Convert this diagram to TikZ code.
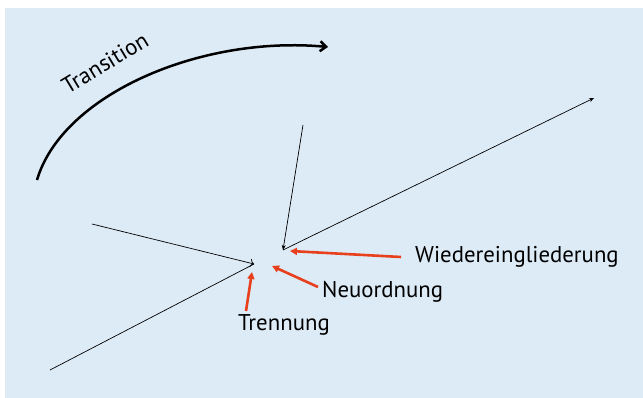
\documentclass[tikz,border=0pt]{standalone}
\usepackage{fontspec}
\setmainfont{PT Sans}
\usetikzlibrary{arrows.meta}
\definecolor{bgblue}{RGB}{221,235,247}
\definecolor{arrowred}{RGB}{232,64,28}
\tikzset{
	thinarrow/.style={black,line width=0.7pt,-{Stealth[length=5pt,width=4pt]}},
	redarrow/.style={arrowred,line width=2.6pt,-{Triangle[length=7pt,width=7pt]}},
	label/.style={font=\fontsize{22.8}{26}\selectfont,inner sep=0pt,anchor=west}
}
\begin{document}
\begin{tikzpicture}[x=1pt,y=-1pt]
	\useasboundingbox (0,0) rectangle (643,398);
	\fill [bgblue] (5,8) rectangle (643,398);
	
	% Transition
	\draw [line width=2.5pt,-{Straight Barb[length=6pt,width=10pt]}] (37,180) .. controls (62,95) and (200,35) .. (328,47);
	\node [font=\fontsize{22.8}{26}\selectfont,rotate=31,inner sep=0pt] (transition) at (105,63) {Transition};
	
	\coordinate (p1) at (254,264);
	\coordinate (p2) at (283,250);
	\coordinate (left) at (92,224);
	\coordinate (bottom) at (50,370);
	\coordinate (top) at (303,125);
	\coordinate (right) at (594,98);
	
	\draw [black,line width=0.7pt,-{To[length=4pt]}] (left) -- (p1);
	\draw [black,line width=0.7pt] (bottom) -- (p1);
	\draw [thinarrow] (top) -- (p2);
	\draw [thinarrow] (p2) -- (right);
	
	% labels
	\begin{scope}[every node/.style={label}]
		\node (wieder) at (415,257) {Wiedereingliederung};
		\node (neu) at (322,292) {Neuordnung};
		\node (trenn) at (238,325) {Trennung};
	\end{scope}
	
	\draw [redarrow] (wieder.west) ++(-14,0) -- (290,251);
	\draw [redarrow] (318,287) -- (272,266);
	\draw [redarrow] (246,311) -- (252,272);
\end{tikzpicture}
\end{document}
